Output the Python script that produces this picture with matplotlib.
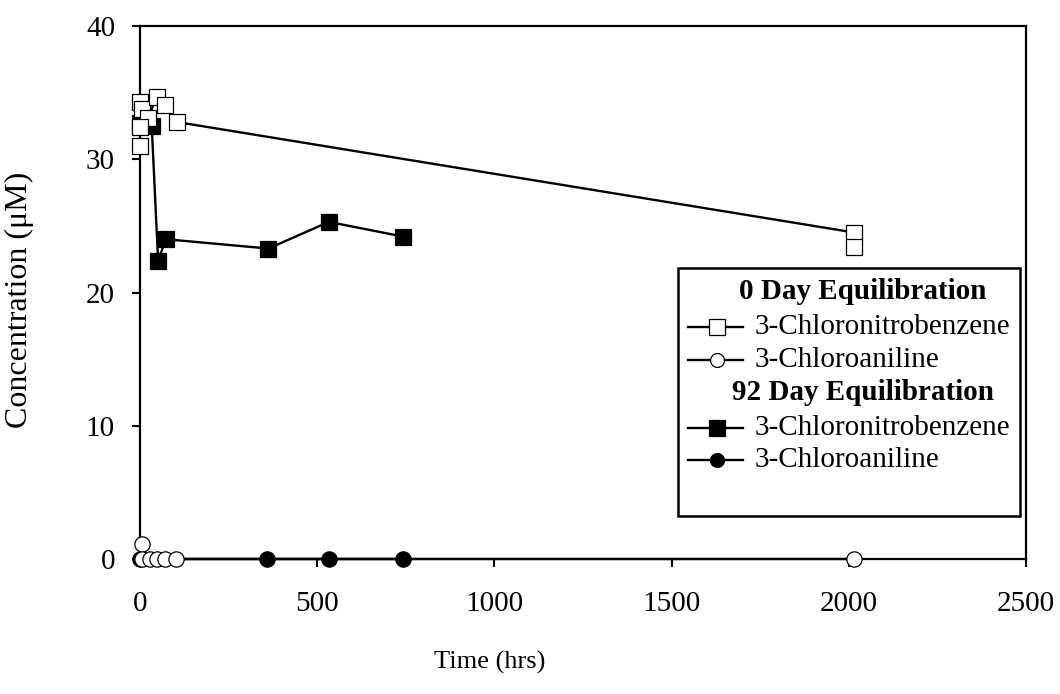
import matplotlib
matplotlib.use('Agg')
from matplotlib import pyplot as plt
from matplotlib.patches import Rectangle

# 0 day equilibration, 3-chloronitrobenzene (line series + extra replicates)
t_cnb0 = [0, 5, 23, 47, 70, 103, 2016]
c_cnb0 = [34.3, 33.8, 33.1, 34.7, 34.1, 32.8, 24.5]
t_cnb0_rep = [0, 0, 2016]
c_cnb0_rep = [32.4, 31.0, 23.4]

# 0 day equilibration, 3-chloroaniline
t_ca0 = [5, 5, 28, 47, 70, 102, 2016]
c_ca0 = [1.1, 0, 0, 0, 0, 0, 0]

# 92 day equilibration, 3-chloronitrobenzene
t_cnb92 = [0, 33, 51, 73, 362, 533, 742]
c_cnb92 = [32.7, 32.5, 22.4, 24.0, 23.3, 25.3, 24.2]

# 92 day equilibration, 3-chloroaniline
t_ca92 = [0, 358, 533, 742]
c_ca92 = [0, 0, 0, 0]

plt.rcParams['font.family'] = ['Liberation Serif', 'DejaVu Serif']

fig = plt.figure(figsize=(10.6, 6.94), dpi=100)
ax = fig.add_axes([0.1321, 0.1945, 0.8358, 0.7680])

lw = 1.7
sq = 12
ci = 11
mew = 0.9

# 92 day series first (open markers sit on top)
ax.plot(t_cnb92, c_cnb92, '-s', color='black', lw=lw, ms=sq, mfc='black',
        mec='black', mew=mew, clip_on=False, zorder=3)
ax.plot(t_ca92, c_ca92, '-o', color='black', lw=lw, ms=ci, mfc='black',
        mec='black', mew=mew, clip_on=False, zorder=3)

ax.plot(t_cnb0, c_cnb0, '-s', color='black', lw=lw, ms=sq, mfc='white',
        mec='black', mew=mew, clip_on=False, zorder=4)
ax.plot(t_cnb0_rep, c_cnb0_rep, 's', ms=sq, mfc='white', mec='black',
        mew=mew, clip_on=False, zorder=4)
ax.plot(t_ca0, c_ca0, '-o', color='black', lw=lw, ms=ci, mfc='white',
        mec='black', mew=mew, clip_on=False, zorder=4)

ax.set_xlim(0, 2500)
ax.set_ylim(0, 40)
ax.set_xticks([0, 500, 1000, 1500, 2000, 2500])
ax.set_yticks([0, 10, 20, 30, 40])
ax.tick_params(axis='both', direction='out', length=6, width=1.5,
               labelsize=21, top=False, right=False)
ax.tick_params(axis='x', pad=17)
ax.tick_params(axis='y', pad=12)
for s in ax.spines.values():
    s.set_linewidth(1.6)

ax.set_xlabel('Time (hrs)', fontsize=19)
ax.set_ylabel('Concentration (μM)', fontsize=23)
ax.xaxis.set_label_coords(0.395, -0.172)
ax.yaxis.set_label_coords(-0.120, 0.486)

# Legend box drawn by hand
tr = ax.transAxes
ax.add_patch(Rectangle((0.607, 0.0807), 0.386, 0.4653, transform=tr,
                       facecolor='white', edgecolor='black', lw=1.8,
                       zorder=5))
rows = [0.501, 0.435, 0.373, 0.313, 0.246, 0.186]
ax.text(0.816, rows[0], '0 Day Equilibration', transform=tr, ha='center',
        va='center', fontsize=21, fontweight='bold', zorder=6)
ax.text(0.816, rows[3], '92 Day Equilibration', transform=tr, ha='center',
        va='center', fontsize=21, fontweight='bold', zorder=6)
entries = [(rows[1], 's', 'white', '3-Chloronitrobenzene'),
           (rows[2], 'o', 'white', '3-Chloroaniline'),
           (rows[4], 's', 'black', '3-Chloronitrobenzene'),
           (rows[5], 'o', 'black', '3-Chloroaniline')]
for y, m, fc, label in entries:
    ax.plot([0.6185, 0.6806], [y, y], '-', color='black', lw=lw,
            transform=tr, clip_on=False, zorder=6)
    ax.plot([0.651], [y], m, ms=(sq if m == 's' else ci) - 1, mfc=fc,
            mec='black', mew=mew, transform=tr, clip_on=False, zorder=7)
    ax.text(0.694, y, label, transform=tr, ha='left', va='center',
            fontsize=21, zorder=6)

plt.savefig('out.png', dpi=100)
